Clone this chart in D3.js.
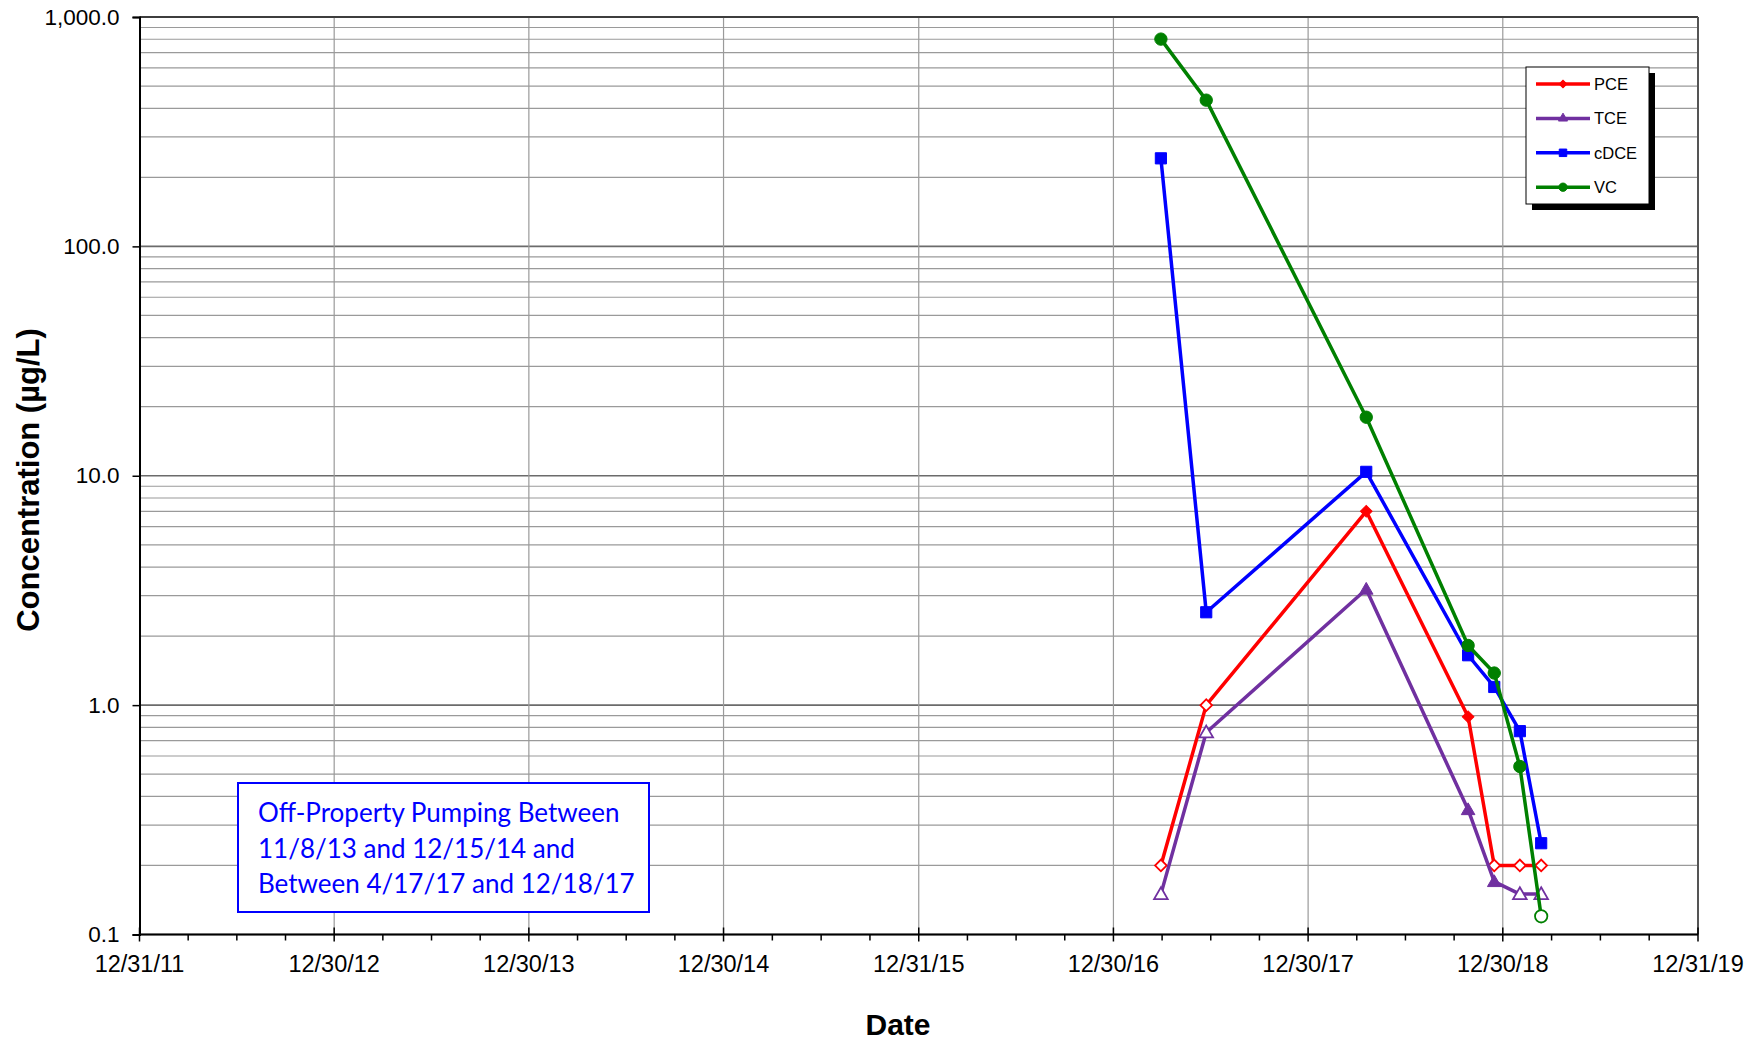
<html>
<head>
  <script src="https://cdn.jsdelivr.net/npm/d3@7"></script>
  <style>
    body { margin: 0; background: #fff; }
  </style>
</head>
<body>
<svg width="1759" height="1041" id="chart" font-family="Liberation Sans, Arial, sans-serif"></svg>
<script>
  // sampling events
  var sampleDates = ["3/29/17", "6/22/17", "4/18/18", "10/26/18", "12/14/18", "1/31/19", "3/12/19"];

  // results in ug/L, nd = not detected (drawn hollow)
  var pce = [0.2, 1.0, 7.0, 0.89, 0.2, 0.2, 0.2];
  var pceND = [1, 1, 0, 0, 1, 1, 1];
  var tce = [0.15, 0.76, 3.2, 0.35, 0.17, 0.15, 0.15];
  var tceND = [1, 1, 0, 0, 0, 1, 1];
  var cdce = [242, 2.54, 10.4, 1.65, 1.2, 0.77, 0.25];
  var cdceND = [0, 0, 0, 0, 0, 0, 0];
  var vc = [801, 434, 18, 1.82, 1.38, 0.54, 0.12];
  var vcND = [0, 0, 0, 0, 0, 0, 1];

  var xTickLabels = ["12/31/11", "12/30/12", "12/30/13", "12/30/14", "12/31/15", "12/30/16", "12/30/17", "12/30/18", "12/31/19"];
  var yTickLabels = ["0.1", "1.0", "10.0", "100.0", "1,000.0"];
  var yTickValues = [0.1, 1, 10, 100, 1000];

  var noteLines = ["Off-Property Pumping Between", "11/8/13 and 12/15/14 and", "Between 4/17/17 and 12/18/17"];

  var parse = d3.timeParse("%m/%d/%y");

  var series = [
    {name: "PCE", values: pce, nd: pceND, color: "#ff0000", shape: "diamond"},
    {name: "TCE", values: tce, nd: tceND, color: "#7030a0", shape: "triangle"},
    {name: "cDCE", values: cdce, nd: cdceND, color: "#0000ff", shape: "square"},
    {name: "VC", values: vc, nd: vcND, color: "#008000", shape: "circle"}
  ];

  var svg = d3.select("svg"),
    pLeft = 139.5, pRight = 1698, pTop = 17, pBottom = 934.5;

  var xTicks = xTickLabels.map(parse);
  var x = d3.scaleTime().domain([xTicks[0], xTicks[xTicks.length - 1]]).range([pLeft, pRight]);
  var y = d3.scaleLog().domain([0.1, 1000]).range([pBottom, pTop]);

  // horizontal grid (all log ticks 1..9 per decade)
  var grid = svg.append("g");
  grid.selectAll(".hminor").data(y.ticks()).enter().append("line")
    .attr("x1", pLeft).attr("x2", pRight)
    .attr("y1", function(d) { return y(d); }).attr("y2", function(d) { return y(d); })
    .attr("stroke", function(d) { return yTickValues.indexOf(d) >= 0 ? "#6b6b6b" : "#9a9a9a"; })
    .attr("stroke-width", function(d) { return yTickValues.indexOf(d) >= 0 ? 1.6 : 1.2; });

  // vertical grid at year ticks
  grid.selectAll(".vgrid").data(xTicks.slice(1, -1)).enter().append("line")
    .attr("x1", function(d) { return x(d); }).attr("x2", function(d) { return x(d); })
    .attr("y1", pTop).attr("y2", pBottom)
    .attr("stroke", "#9a9a9a").attr("stroke-width", 1.2);

  // plot frame
  svg.append("line").attr("x1", pLeft).attr("x2", pRight).attr("y1", pTop).attr("y2", pTop)
    .attr("stroke", "#222").attr("stroke-width", 1.5);
  svg.append("line").attr("x1", pRight).attr("x2", pRight).attr("y1", pTop).attr("y2", pBottom)
    .attr("stroke", "#555").attr("stroke-width", 2);

  // y axis
  var yAxis = d3.axisLeft(y).tickValues(yTickValues)
    .tickFormat(function(d, i) { return yTickLabels[i]; })
    .tickSize(7).tickPadding(13);
  var gy = svg.append("g").attr("transform", "translate(" + pLeft + ",0)").call(yAxis);
  gy.select(".domain").attr("stroke", "#000").attr("stroke-width", 2);
  gy.selectAll(".tick line").attr("stroke", "#000").attr("stroke-width", 1.5);
  gy.selectAll("text").attr("font-size", "22.5px").attr("font-family", "Liberation Sans, Arial").attr("fill", "#000");

  // x axis - major ticks + quarter minor ticks
  var minor = [];
  for (var i = 0; i < xTicks.length - 1; i++) {
    var a = +xTicks[i], b = +xTicks[i + 1];
    for (var k = 1; k < 4; k++) minor.push(new Date(a + (b - a) * k / 4));
  }
  var gx = svg.append("g");
  gx.append("line").attr("x1", pLeft).attr("x2", pRight).attr("y1", pBottom).attr("y2", pBottom)
    .attr("stroke", "#000").attr("stroke-width", 2);
  gx.selectAll(".minor").data(minor).enter().append("line")
    .attr("x1", function(d) { return x(d); }).attr("x2", function(d) { return x(d); })
    .attr("y1", pBottom).attr("y2", pBottom + 6)
    .attr("stroke", "#000").attr("stroke-width", 1.5);
  gx.selectAll(".major").data(xTicks).enter().append("line")
    .attr("x1", function(d) { return x(d); }).attr("x2", function(d) { return x(d); })
    .attr("y1", pBottom - 7).attr("y2", pBottom + 7)
    .attr("stroke", "#000").attr("stroke-width", 1.5);
  gx.selectAll(".lbl").data(xTicks).enter().append("text")
    .attr("x", function(d) { return x(d); }).attr("y", 972)
    .attr("text-anchor", "middle").attr("font-size", "23.5px")
    .text(function(d, i) { return xTickLabels[i]; });

  // axis titles
  svg.append("text").attr("x", 898).attr("y", 1035).attr("text-anchor", "middle")
    .attr("font-size", "30px").attr("font-weight", "bold").text("Date");
  svg.append("text").attr("transform", "translate(39,480) rotate(-90)").attr("text-anchor", "middle")
    .attr("font-size", "31px").attr("font-weight", "bold").text("Concentration (\u00b5g/L)");

  // marker helper
  function markerPath(shape, scale) {
    var sym = {diamond: d3.symbolSquare, triangle: d3.symbolTriangle, square: d3.symbolSquare, circle: d3.symbolCircle}[shape];
    var size = {diamond: 68, triangle: 80, square: 125, circle: 120}[shape];
    return d3.symbol().type(sym).size(size * (scale || 1))();
  }

  var line = d3.line()
    .x(function(d) { return x(parse(d.date)); })
    .y(function(d) { return y(d.v); });

  series.forEach(function(s) {
    var pts = s.values.map(function(v, i) { return {date: sampleDates[i], v: v, nd: s.nd[i]}; });
    svg.append("path").datum(pts).attr("d", line)
      .attr("fill", "none").attr("stroke", s.color).attr("stroke-width", 3.5)
      .attr("stroke-linejoin", "round");
    svg.selectAll(".m-" + s.name).data(pts).enter().append("path")
      .attr("d", markerPath(s.shape))
      .attr("transform", function(d) {
        return "translate(" + x(parse(d.date)) + "," + y(d.v) + ")" + (s.shape === "diamond" ? " rotate(45)" : "") + (s.shape === "triangle" ? " translate(0,1)" : "");
      })
      .attr("fill", function(d) { return d.nd ? "#fff" : s.color; })
      .attr("stroke", s.color)
      .attr("stroke-width", function(d) { return d.nd ? 1.8 : 1; });
  });

  // legend
  var lg = svg.append("g").attr("transform", "translate(1526,67)");
  lg.append("rect").attr("x", 6).attr("y", 6).attr("width", 123).attr("height", 137).attr("fill", "#000");
  lg.append("rect").attr("x", 0).attr("y", 0).attr("width", 123).attr("height", 137)
    .attr("fill", "#fff").attr("stroke", "#000").attr("stroke-width", 1);
  series.forEach(function(s, i) {
    var ly = 17 + i * 34.4;
    lg.append("line").attr("x1", 10).attr("x2", 64).attr("y1", ly).attr("y2", ly)
      .attr("stroke", s.color).attr("stroke-width", 3.5);
    lg.append("path").attr("d", markerPath(s.shape, 0.45))
      .attr("transform", "translate(37," + ly + ")" + (s.shape === "diamond" ? " rotate(45)" : ""))
      .attr("fill", s.color).attr("stroke", s.color);
    lg.append("text").attr("x", 68).attr("y", ly + 6).attr("font-size", "16.5px").text(s.name);
  });

  // annotation box
  var nb = svg.append("g").attr("transform", "translate(238,783)");
  nb.append("rect").attr("width", 411).attr("height", 129)
    .attr("fill", "#fff").attr("stroke", "#0000ff").attr("stroke-width", 2);
  nb.selectAll("text").data(noteLines).enter().append("text")
    .attr("x", 20).attr("y", function(d, i) { return 39 + i * 35.5; })
    .attr("font-family", "Lato, sans-serif").attr("font-size", "26px").attr("fill", "#0000ff")
    .text(function(d) { return d; });
</script>
</body>
</html>
